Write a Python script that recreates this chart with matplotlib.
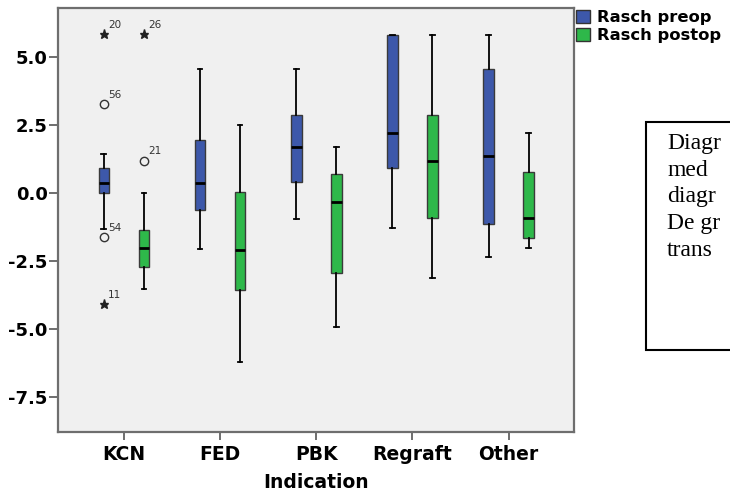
import matplotlib
matplotlib.use('Agg')
import matplotlib.pyplot as plt
from matplotlib.patches import Patch, Rectangle

plt.rcParams['axes.unicode_minus'] = False

# data --------------------------------------------------------------
categories = ['KCN', 'FED', 'PBK', 'Regraft', 'Other']
series = ['Rasch preop', 'Rasch postop']
colors = ['#3d58aa', '#2eb84a']

pre_whislo = [-1.31, -2.07, -0.94, -1.29, -2.36]
pre_q1 = [0.00, -0.61, 0.42, 0.92, -1.13]
pre_med = [0.37, 0.37, 1.68, 2.22, 1.35]
pre_q3 = [0.90, 1.94, 2.87, 5.82, 4.54]
pre_whishi = [1.42, 4.55, 4.55, 5.82, 5.82]

post_whislo = [-3.55, -6.22, -4.93, -3.11, -2.01]
post_q1 = [-2.72, -3.58, -2.93, -0.92, -1.64]
post_med = [-2.01, -2.11, -0.35, 1.17, -0.93]
post_q3 = [-1.35, 0.04, 0.71, 2.85, 0.76]
post_whishi = [0.00, 2.51, 1.68, 5.82, 2.22]

# outliers: (category index, series index, value, case label, extreme?)
out_cat = [0, 0, 0, 0, 0, 0]
out_ser = [0, 0, 0, 0, 1, 1]
out_val = [5.83, 3.27, -1.63, -4.09, 5.83, 1.19]
out_lab = ['20', '56', '54', '11', '26', '21']
out_ext = [True, False, False, True, True, False]

yticks = [-7.5, -5.0, -2.5, 0.0, 2.5, 5.0]

# only the part of the note that is visible in the picture
note_lines = ['Diagr', 'med', 'diagr', 'De gr', 'trans']

# --------------------------------------------------------------------
fig = plt.figure(figsize=(7.3, 4.9), dpi=100)
ax = fig.add_axes([58/730, 58/490, (574-58)/730, (432-8)/490])
ax.set_facecolor('#f0f0f0')

offset = 0.208
bw = 0.11
stats_all = [
    (pre_whislo, pre_q1, pre_med, pre_q3, pre_whishi),
    (post_whislo, post_q1, post_med, post_q3, post_whishi),
]
for s, (lo, q1, med, q3, hi) in enumerate(stats_all):
    st = []
    for i in range(len(categories)):
        st.append({'whislo': lo[i], 'q1': q1[i], 'med': med[i], 'q3': q3[i],
                   'whishi': hi[i], 'fliers': []})
    pos = [i + (offset if s else -offset) for i in range(len(categories))]
    ax.bxp(st, positions=pos, widths=bw, patch_artist=True, showfliers=False,
           boxprops=dict(facecolor=colors[s], edgecolor='#3a3a3a', linewidth=1.0),
           medianprops=dict(color='black', linewidth=2.0),
           whiskerprops=dict(color='black', linewidth=1.3),
           capprops=dict(color='black', linewidth=1.3), capwidths=bw * 0.45,
           manage_ticks=False)

for c, s, v, lab, ext in zip(out_cat, out_ser, out_val, out_lab, out_ext):
    x = c + (offset if s else -offset)
    if ext:
        ax.plot(x, v, marker='*', color='#222222', markersize=6.5, linestyle='none')
    else:
        ax.plot(x, v, marker='o', mfc='none', mec='#333333', markersize=6,
                mew=1.0, linestyle='none')
    ax.annotate(lab, (x, v), xytext=(3, 3), textcoords='offset points',
                fontsize=7.5, color='#333333', ha='left', va='bottom')

ax.set_xlim(-0.685, 4.68)
ax.set_ylim(-8.79, 6.8)
ax.set_xticks(range(len(categories)))
ax.set_xticklabels(categories, fontsize=13.5, fontweight='bold')
ax.set_yticks(yticks)
ax.set_yticklabels(['%.1f' % t for t in yticks], fontsize=13, fontweight='bold')
ax.tick_params(axis='y', length=6.5, width=1.2, color='#555555', pad=1)
ax.tick_params(axis='x', length=5.5, width=1.2, color='#555555', pad=4)
ax.set_xlabel('Indication', fontsize=13.5, fontweight='bold', labelpad=6)
for sp in ax.spines.values():
    sp.set_color('#6e6e6e')
    sp.set_linewidth(1.6)

handles = [Patch(facecolor=colors[0], edgecolor='#333333'),
           Patch(facecolor=colors[1], edgecolor='#333333')]
fig.legend(handles, series, loc='upper left', bbox_to_anchor=(576/730, 1 - 10/490),
           frameon=False, borderpad=0, borderaxespad=0, handlelength=0.85,
           handleheight=0.85, handletextpad=0.45, labelspacing=0.15,
           prop=dict(size=11.8, weight='bold'))

# text box overlapping the right edge
fig.patches.append(Rectangle((646/730, (490-350)/490), 0.3, 228/490,
                             transform=fig.transFigure, facecolor='white',
                             edgecolor='black', linewidth=1.5))
for k, line in enumerate(note_lines):
    fig.text(667/730, 1 - (149 + 26.7*k)/490, line, family='Liberation Serif',
             fontsize=17, va='baseline', ha='left')

fig.savefig('out.png', dpi=100)
